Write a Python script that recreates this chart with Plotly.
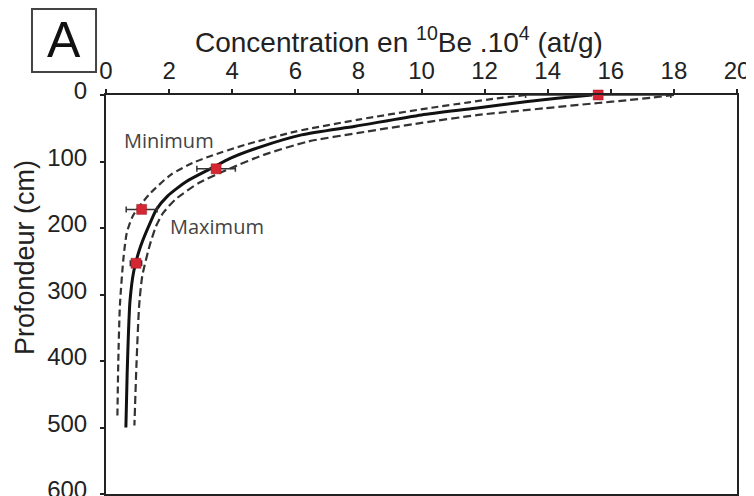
import plotly.graph_objects as go

# Measured samples (concentration x10^4 at/g, depth cm)
sample_conc = [15.6, 3.49, 1.13, 0.95]
sample_depth = [0, 111, 172, 253]
sample_err = [2.3, 0.61, 0.49, 0.18]

# Modelled profiles
mid_depth = [0, 5, 10, 20, 30, 47, 60, 78, 95, 110, 130, 152, 172, 190, 227, 265, 310, 360, 420, 500]
mid_conc = [15.4, 14.3, 13.3, 11.7, 10.0, 7.9, 6.2, 4.9, 3.95, 3.35, 2.55, 1.95, 1.6, 1.42, 1.1, 0.88, 0.76, 0.71, 0.67, 0.63]

min_depth = [0, 5, 11, 20, 37, 55, 75, 92, 102, 120, 147, 162, 182, 207, 247, 317, 400, 487]
min_conc = [13.3, 12.4, 11.5, 10.2, 8.0, 6.0, 4.4, 3.3, 2.75, 2.05, 1.42, 1.15, 0.85, 0.66, 0.55, 0.44, 0.39, 0.36]

max_depth = [0, 4, 8, 12, 20, 30, 42, 57, 70, 90, 110, 132, 157, 178, 198, 227, 272, 317, 400, 497]
max_conc = [18.0, 17.3, 16.5, 15.6, 13.9, 11.8, 10.0, 8.0, 6.4, 5.0, 3.95, 2.95, 2.2, 1.8, 1.58, 1.38, 1.15, 1.05, 0.97, 0.9]

x_ticks = [0, 2, 4, 6, 8, 10, 12, 14, 16, 18, 20]
y_ticks = [0, 100, 200, 300, 400, 500, 600]

FONT = "Liberation Sans, Arial, sans-serif"
DARK = "#222222"

fig = go.Figure()
fig.add_trace(go.Scatter(x=min_conc, y=min_depth, mode="lines",
                         line=dict(color="#333333", width=2.2, dash="7px,4px", shape="spline", smoothing=0.6),
                         hoverinfo="skip", cliponaxis=False))
fig.add_trace(go.Scatter(x=max_conc, y=max_depth, mode="lines",
                         line=dict(color="#333333", width=2.2, dash="8px,4px", shape="spline", smoothing=0.6),
                         hoverinfo="skip", cliponaxis=False))
fig.add_trace(go.Scatter(x=mid_conc, y=mid_depth, mode="lines",
                         line=dict(color="#111111", width=3, shape="spline", smoothing=0.6),
                         hoverinfo="skip", cliponaxis=False))
fig.add_trace(go.Scatter(x=sample_conc, y=sample_depth, mode="markers",
                         marker=dict(symbol="square", size=10, color="#d42633",
                                     line=dict(color="#9a1a22", width=0.5)),
                         error_x=dict(type="data", array=sample_err, visible=True,
                                      color="#333333", thickness=1.5, width=3),
                         cliponaxis=False))

# the page body has an 8px margin, so the figure is sized/placed to compensate
fig.update_layout(
    width=746, height=488,
    margin=dict(l=98, r=17, t=87, b=2),
    paper_bgcolor="white", plot_bgcolor="white",
    showlegend=False,
    font=dict(family=FONT, color=DARK),
    xaxis=dict(range=[0, 20], side="top", tickvals=x_ticks, ticktext=[str(v) for v in x_ticks],
               automargin=False, ticklabeloverflow="allow",
               showgrid=False, zeroline=False, showline=True, linecolor=DARK, linewidth=2,
               mirror=True, ticks="outside", ticklen=4, tickwidth=1.5, tickcolor=DARK,
               tickfont=dict(size=24, color=DARK, family=FONT), ticklabelstandoff=0),
    yaxis=dict(range=[600, 0], tickvals=y_ticks, ticktext=[str(v) for v in y_ticks],
               automargin=False, ticklabeloverflow="allow", ticklabelshift=4,
               showgrid=False, zeroline=False, showline=True, linecolor=DARK, linewidth=2,
               mirror=True, ticks="outside", ticklen=4, tickwidth=1.5, tickcolor=DARK,
               tickfont=dict(size=24, color=DARK, family=FONT), ticklabelstandoff=8),
    shapes=[dict(type="rect", xref="paper", yref="paper",
                 x0=-0.1173, x1=-0.0158, y0=1.0576, y1=1.2155,
                 line=dict(color="#444444", width=2), fillcolor="white")],
    annotations=[
        dict(text="A", xref="paper", yref="paper", x=-0.0666, y=1.1366,
             xanchor="center", yanchor="middle", showarrow=False,
             font=dict(size=50, color="#111111", family=FONT)),
        dict(text="Concentration en <sup>10</sup>Be .10<sup>4</sup> (at/g)",
             xref="paper", yref="paper", x=0.4643, y=1.1378,
             xanchor="center", yanchor="middle", showarrow=False,
             font=dict(size=28, color=DARK, family=FONT)),
        dict(text="Profondeur (cm)", xref="paper", yref="paper",
             x=(25 - 106) / 631, y=(494 - 258) / 399, textangle=-90,
             xanchor="center", yanchor="middle", showarrow=False,
             font=dict(size=27, color=DARK, family=FONT)),
        dict(text="Minimum", xref="x", yref="y", x=(169 - 106) / 31.5, y=(140 - 95) / 0.665,
             xanchor="center", yanchor="middle", showarrow=False,
             font=dict(size=20, color="#444444", family="Open Sans, sans-serif")),
        dict(text="Maximum", xref="x", yref="y", x=(217 - 106) / 31.5, y=(226 - 95) / 0.665,
             xanchor="center", yanchor="middle", showarrow=False,
             font=dict(size=20, color="#444444", family="Open Sans, sans-serif")),
    ],
)

fig.write_html("out.html")
